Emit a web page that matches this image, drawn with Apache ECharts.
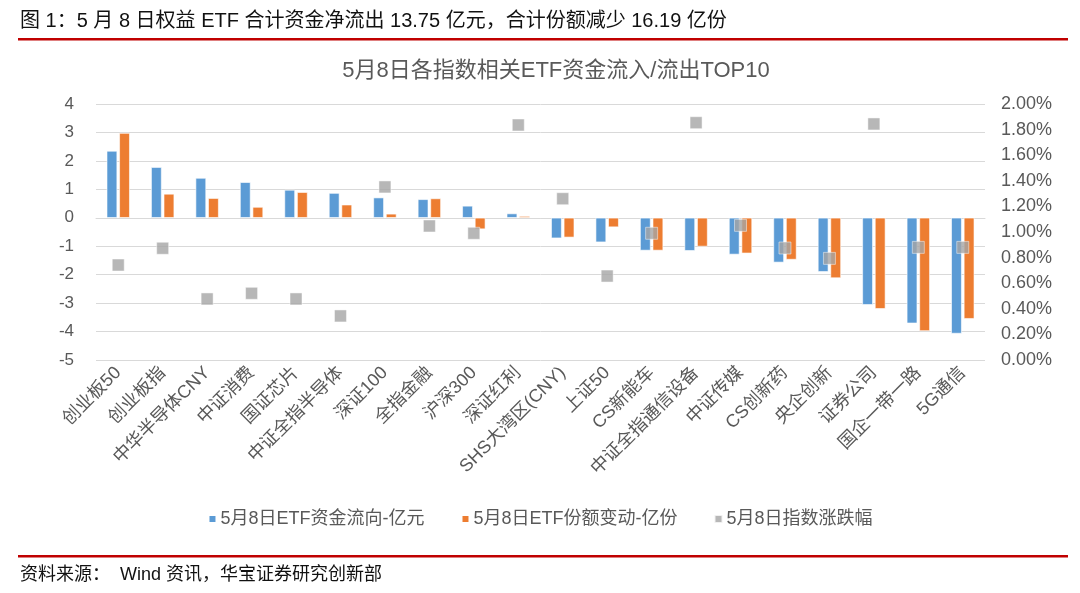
<!DOCTYPE html>
<html><head><meta charset="utf-8">
<script src="https://cdn.jsdelivr.net/npm/echarts@6/dist/echarts.min.js"></script>
<style>html,body{margin:0;padding:0;background:#fff}#c{width:1080px;height:593px}</style>
</head><body><div id="c"></div>
<script>
const categories = ['创业板50','创业板指','中华半导体CNY','中证消费','国证芯片','中证全指半导体','深证100','全指金融','沪深300','深证红利','SHS大湾区(CNY)','上证50','CS新能车','中证全指通信设备','中证传媒','CS创新药','央企创新','证券公司','国企一带一路','5G通信'];
const flowValues = [2.35,1.78,1.40,1.25,0.98,0.87,0.71,0.65,0.42,0.15,-0.72,-0.86,-1.15,-1.16,-1.29,-1.57,-1.90,-3.06,-3.71,-4.07];
const shareValues = [2.98,0.84,0.69,0.38,0.90,0.46,0.14,0.68,-0.40,0.06,-0.69,-0.33,-1.15,-1.01,-1.25,-1.47,-2.12,-3.20,-3.98,-3.55];
const changePct = [0.742,0.873,0.477,0.521,0.477,0.344,1.352,1.047,0.99,1.836,1.26,0.656,0.99,1.854,1.052,0.875,0.794,1.844,0.88,0.88];
const seriesNames = ['5月8日ETF资金流向-亿元','5月8日ETF份额变动-亿份','5月8日指数涨跌幅'];
const headerText = '图 1：5 月 8 日权益 ETF 合计资金净流出 13.75 亿元，合计份额减少 16.19 亿份';
const titleText = '5月8日各指数相关ETF资金流入/流出TOP10';
const sourceText = '资料来源：  Wind 资讯，华宝证券研究创新部';

const FONT = '"Liberation Sans","Noto Sans CJK SC",sans-serif';
const chart = echarts.init(document.getElementById('c'), null, {renderer:'canvas'});
chart.setOption({
  animation:false,
  textStyle:{fontFamily:FONT},
  title:{text:titleText,left:551,textAlign:'center',top:55,textStyle:{fontSize:22,fontWeight:'normal',color:'#595959',fontFamily:FONT}},
  legend:{bottom:60,left:'center',itemWidth:8,itemHeight:8,itemGap:36,icon:'rect',
    textStyle:{fontSize:18,color:'#595959',fontFamily:FONT,padding:[0,0,0,-1]},data:seriesNames},
  grid:{left:96,right:95,top:104,bottom:233,containLabel:false},
  xAxis:{type:'category',data:categories,
    axisLine:{show:true,onZero:true,lineStyle:{color:'#D9D9D9'}},axisTick:{show:false},
    axisLabel:{rotate:45,interval:0,fontSize:18,color:'#595959',margin:10,fontFamily:FONT}},
  yAxis:[
    {type:'value',min:-5,max:4,interval:1,
     axisLabel:{fontSize:17,color:'#595959',margin:22,fontFamily:FONT},
     splitLine:{lineStyle:{color:'#D9D9D9',width:1}},axisLine:{show:false},axisTick:{show:false}},
    {type:'value',min:0,max:2,interval:0.2,position:'right',
     axisLabel:{fontSize:18,color:'#595959',margin:16,fontFamily:FONT,formatter:v=>v.toFixed(2)+'%'},
     splitLine:{show:false},axisLine:{show:false},axisTick:{show:false}}
  ],
  series:[
    {name:seriesNames[0],type:'bar',data:flowValues,barWidth:10.5,barGap:'20%',
     itemStyle:{color:'#5B9BD5',borderColor:'#ffffff',borderWidth:0.6}},
    {name:seriesNames[1],type:'bar',data:shareValues,barWidth:10.5,barGap:'20%',
     itemStyle:{color:'#ED7D31',borderColor:'#ffffff',borderWidth:0.6}},
    {name:seriesNames[2],type:'scatter',yAxisIndex:1,data:changePct,symbol:'rect',symbolSize:12,
     itemStyle:{color:'#A5A5A5',borderColor:'#ffffff',borderWidth:0.6},z:5}
  ],
  graphic:[
    {type:'text',left:20,top:11,style:{text:headerText,fontSize:20,fill:'#111',fontFamily:FONT}},
    {type:'rect',shape:{x:18,y:38,width:1050,height:2.5},style:{fill:'#C00000'}},
    {type:'rect',shape:{x:18,y:555,width:1050,height:2.5},style:{fill:'#C00000'}},
    {type:'text',left:20,top:566,style:{text:sourceText,fontSize:18,fill:'#111',fontFamily:FONT}}
  ]
});
</script></body></html>
